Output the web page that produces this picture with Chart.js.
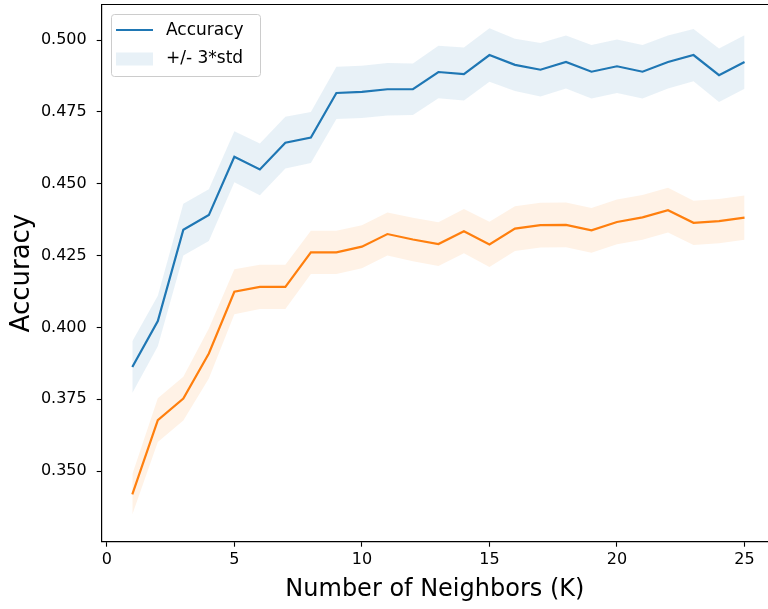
<!DOCTYPE html>
<html><head><meta charset="utf-8">
<script src="https://cdn.jsdelivr.net/npm/chart.js@4/dist/chart.umd.min.js"></script>
<style>html,body{margin:0;padding:0;background:#fff;overflow:hidden}canvas{display:block}</style>
</head><body>
<canvas id="c" width="768" height="609"></canvas>
<script>
// ---- data ----
const neighbors = [1,2,3,4,5,6,7,8,9,10,11,12,13,14,15,16,17,18,19,20,21,22,23,24,25];
const accMean = [0.3862,0.4022,0.4340,0.4391,0.4594,0.4550,0.4643,0.4661,0.4816,0.4820,0.4829,0.4829,0.4889,0.4882,0.4948,0.4914,0.4897,0.4924,0.4890,0.4909,0.4890,0.4924,0.4948,0.4878,0.4924];
const accStd3 = [0.0090,0.0088,0.0090,0.0090,0.0089,0.0090,0.0090,0.0089,0.0091,0.0091,0.0091,0.0090,0.0091,0.0092,0.0093,0.0091,0.0093,0.0092,0.0093,0.0093,0.0093,0.0092,0.0091,0.0093,0.0093];
const acc2Mean = [0.3419,0.3677,0.3752,0.3909,0.4124,0.4141,0.4141,0.4261,0.4261,0.4281,0.4325,0.4306,0.4290,0.4335,0.4289,0.4344,0.4356,0.4357,0.4338,0.4367,0.4383,0.4408,0.4364,0.4370,0.4382];
const acc2Std3 = [0.0070,0.0076,0.0076,0.0087,0.0078,0.0077,0.0077,0.0075,0.0075,0.0075,0.0075,0.0076,0.0076,0.0077,0.0079,0.0078,0.0078,0.0078,0.0078,0.0078,0.0078,0.0078,0.0077,0.0077,0.0077];
const xTicks = [0,5,10,15,20,25];
const yTicks = [0.350,0.375,0.400,0.425,0.450,0.475,0.500];
const legendLabels = ['Accuracy','+/- 3*std'];
const xTitle = 'Number of Neighbors (K)';
const yTitle = 'Accuracy';

const BLUE = '#1f77b4', ORANGE = '#ff7f0e';
const BLUE_BAND = 'rgba(31,119,180,0.1)', ORANGE_BAND = 'rgba(255,127,14,0.1)';
const FONT = '"DejaVu Sans", sans-serif';

const pts = (arr) => neighbors.map((k,i)=>({x:k,y:arr[i]}));
const lo = (m,s) => m.map((v,i)=>v - s[i]);
const hi = (m,s) => m.map((v,i)=>v + s[i]);

const noLine = {borderWidth:0, pointRadius:0, showLine:true};
const datasets = [
  {label:'accLine', data:pts(accMean), borderColor:BLUE, borderWidth:2.2, pointRadius:0, fill:false, order:0},
  {label:'accLo', data:pts(lo(accMean,accStd3)), ...noLine, fill:false},
  {label:'accHi', data:pts(hi(accMean,accStd3)), ...noLine, fill:'-1', backgroundColor:BLUE_BAND},
  {label:'acc2Line', data:pts(acc2Mean), borderColor:ORANGE, borderWidth:2.2, pointRadius:0, fill:false},
  {label:'acc2Lo', data:pts(lo(acc2Mean,acc2Std3)), ...noLine, fill:false},
  {label:'acc2Hi', data:pts(hi(acc2Mean,acc2Std3)), ...noLine, fill:'-1', backgroundColor:ORANGE_BAND},
];
datasets.forEach((d,i)=>{ d.order = undefined; });

const zeroPad = (s)=>{ s.paddingLeft=0; s.paddingRight=0; s.paddingTop=0; s.paddingBottom=0; };

const framePlugin = {
  id:'frame',
  afterDatasetsDraw(chart){
    const {ctx, chartArea:a} = chart;
    ctx.save();
    ctx.strokeStyle = '#000'; ctx.lineWidth = 1.2;
    ctx.beginPath(); ctx.moveTo(a.left, a.top); ctx.lineTo(a.right+2, a.top); ctx.stroke();
    ctx.restore();
  },
  afterDraw(chart){
    const ctx = chart.ctx;
    ctx.save();
    // legend frame
    const x=111.5, y=14.5, w=149, h=62, r=3;
    ctx.beginPath();
    ctx.moveTo(x+r,y); ctx.lineTo(x+w-r,y); ctx.quadraticCurveTo(x+w,y,x+w,y+r);
    ctx.lineTo(x+w,y+h-r); ctx.quadraticCurveTo(x+w,y+h,x+w-r,y+h);
    ctx.lineTo(x+r,y+h); ctx.quadraticCurveTo(x,y+h,x,y+h-r);
    ctx.lineTo(x,y+r); ctx.quadraticCurveTo(x,y,x+r,y); ctx.closePath();
    ctx.fillStyle='rgba(255,255,255,0.8)'; ctx.fill();
    ctx.strokeStyle='#cccccc'; ctx.lineWidth=1; ctx.stroke();
    // handles
    ctx.strokeStyle=BLUE; ctx.lineWidth=2.2;
    ctx.beginPath(); ctx.moveTo(116,30); ctx.lineTo(153,30); ctx.stroke();
    ctx.fillStyle=BLUE_BAND; ctx.fillRect(116,52.5,37,13);
    // text
    ctx.fillStyle='#000'; ctx.font='17px '+FONT; ctx.textBaseline='middle'; ctx.textAlign='left';
    ctx.fillText(legendLabels[0],166,31);
    ctx.fillText(legendLabels[1],166,58.5);
    ctx.restore();
  }
};

new Chart(document.getElementById('c'), {
  type:'line',
  data:{datasets},
  options:{
    responsive:false, animation:false, devicePixelRatio:1,
    layout:{padding:{left:0,top:4.5,right:0,bottom:0}},
    plugins:{legend:{display:false}, tooltip:{enabled:false}, filler:{propagate:false}},
    elements:{line:{tension:0}},
    scales:{
      x:{type:'linear', min:-0.2, max:25.92,
        afterBuildTicks:(s)=>{ s.ticks = xTicks.map(v=>({value:v})); },
        afterFit:(s)=>{ s.height = 609-541.7; zeroPad(s); },
        grid:{drawOnChartArea:false, drawTicks:true, tickLength:5, tickColor:'#000', tickWidth:1.1},
        border:{display:true, color:'#000', width:1.2},
        ticks:{color:'#000', font:{family:FONT, size:16}, padding:4, maxRotation:0, autoSkip:false,
          callback:(v)=>String(v)},
        title:{display:true, text:xTitle, color:'#000', font:{family:FONT, size:24}, padding:{top:0,bottom:5}}
      },
      y:{type:'linear', min:0.3254, max:0.5124,
        afterBuildTicks:(s)=>{ s.ticks = yTicks.map(v=>({value:v})); },
        afterFit:(s)=>{ s.width = 101.7; zeroPad(s); },
        grid:{drawOnChartArea:false, drawTicks:true, tickLength:5, tickColor:'#000', tickWidth:1.1},
        border:{display:true, color:'#000', width:1.2},
        ticks:{color:'#000', font:{family:FONT, size:16}, padding:10, autoSkip:false,
          callback:(v)=>Number(v).toFixed(3)},
        title:{display:true, text:yTitle, color:'#000', font:{family:FONT, size:26}, padding:{top:7,bottom:0}}
      }
    }
  },
  plugins:[framePlugin]
});
</script>
</body></html>
